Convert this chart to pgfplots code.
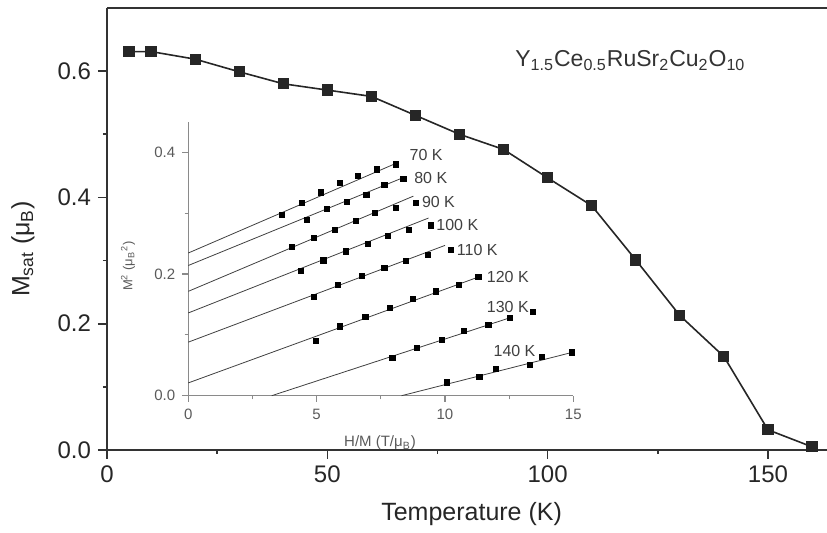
\documentclass[border=0pt]{standalone}
\usepackage{pgfplots}
\pgfplotsset{compat=1.18}
\usepackage{fontspec}
\setmainfont{Liberation Sans}
\definecolor{insetgray}{HTML}{8A8A8A}
\definecolor{insettext}{HTML}{5A5A5A}
\begin{document}
\begin{tikzpicture}
\begin{axis}[
  name=main, at={(0pt,0pt)}, anchor=south west,
  scale only axis, width=360pt, height=221pt,
  xmin=0, xmax=163.4, ymin=0, ymax=0.7,
  axis x line*=box, axis y line*=left,
  axis line style={black!80, line width=1pt},
  xtick={0,50,100,150}, minor xtick={25,75,125},
  ytick={0,0.2,0.4,0.6}, minor ytick={0.1,0.3,0.5},
  xtick pos=left, ytick pos=left,
  tick align=outside,
  major tick length=4.5pt, minor tick length=2pt,
  tick style={black!80, line width=0.8pt},
  y tick label style={/pgf/number format/fixed, /pgf/number format/fixed zerofill, /pgf/number format/precision=1},
  ticklabel style={font=\fontsize{12}{14}\selectfont, text=black!85},
  /pgf/number format/assume math mode=true,
  clip=false,
]
\addplot[black!85, line width=0.8pt, mark=square*, mark size=2.4pt, mark options={solid}] coordinates {
(5,0.631) (10,0.631) (20,0.619) (30,0.599) (40,0.580) (50,0.570) (60,0.560)
(70,0.530) (80,0.500) (90,0.476) (100,0.431) (110,0.387) (120,0.301)
(130,0.213) (140,0.148) (150,0.032) (160,0.005)
};
\end{axis}

\begin{axis}[
  name=inset, at={(40.65pt,27.15pt)}, anchor=south west,
  scale only axis, width=192.5pt, height=136.9pt,
  xmin=0, xmax=15, ymin=0, ymax=0.45,
  axis lines*=left,
  axis line style={insetgray, line width=0.6pt},
  xtick={0,5,10,15}, minor xtick={2.5,7.5,12.5},
  ytick={0,0.2,0.4}, minor ytick={0.1,0.3},
  tick align=outside,
  major tick length=3pt, minor tick length=1.8pt,
  tick style={insetgray, line width=0.6pt},
  y tick label style={/pgf/number format/fixed, /pgf/number format/fixed zerofill, /pgf/number format/precision=1},
  ticklabel style={font=\fontsize{7.5}{9}\selectfont, text=insettext},
  /pgf/number format/assume math mode=true,
  clip=false,
]
% fit lines
\addplot[black!75, line width=0.4pt] coordinates {(0,0.2345) (8.1,0.382)};
\addplot[black!75, line width=0.4pt] coordinates {(0,0.214) (8.35,0.358)};
\addplot[black!75, line width=0.4pt] coordinates {(0,0.1715) (8.77,0.328)};
\addplot[black!75, line width=0.4pt] coordinates {(0,0.136) (9.36,0.292)};
\addplot[black!75, line width=0.4pt] coordinates {(0,0.088) (10.0,0.247)};
\addplot[black!75, line width=0.4pt] coordinates {(0,0.021) (11.3,0.195)};
\addplot[black!75, line width=0.4pt] coordinates {(3.25,0) (12.6,0.129)};
\addplot[black!75, line width=0.4pt] coordinates {(8.31,0) (14.94,0.071)};
% data
\pgfplotsset{every axis plot/.append style={}}
\addplot[only marks, mark=square*, mark size=1.3pt, black] coordinates {
(3.64,0.2975) (4.44,0.317) (5.17,0.334) (5.91,0.350) (6.62,0.361) (7.36,0.372) (8.09,0.380)};
\addplot[only marks, mark=square*, mark size=1.3pt, black] coordinates {
(4.61,0.289) (5.39,0.307) (6.19,0.318) (6.94,0.330) (7.64,0.346) (8.38,0.356)};
\addplot[only marks, mark=square*, mark size=1.3pt, black] coordinates {
(4.03,0.244) (4.90,0.259) (5.71,0.272) (6.52,0.287) (7.27,0.301) (8.09,0.308) (8.87,0.317)};
\addplot[only marks, mark=square*, mark size=1.3pt, black] coordinates {
(4.40,0.2055) (5.26,0.2225) (6.14,0.237) (6.99,0.250) (7.77,0.262) (8.60,0.273) (9.44,0.280)};
\addplot[only marks, mark=square*, mark size=1.3pt, black] coordinates {
(4.90,0.163) (5.84,0.182) (6.75,0.197) (7.64,0.210) (8.48,0.222) (9.35,0.232) (10.22,0.239)};
\addplot[only marks, mark=square*, mark size=1.3pt, black] coordinates {
(4.97,0.090) (5.91,0.114) (6.90,0.130) (7.86,0.144) (8.74,0.159) (9.65,0.1715) (10.55,0.1825) (11.30,0.195)};
\addplot[only marks, mark=square*, mark size=1.3pt, black] coordinates {
(7.95,0.062) (8.90,0.078) (9.87,0.092) (10.74,0.106) (11.69,0.117) (12.53,0.128) (13.44,0.1375)};
\addplot[only marks, mark=square*, mark size=1.3pt, black] coordinates {
(10.06,0.022) (11.34,0.031) (11.97,0.044) (13.31,0.050) (13.77,0.064) (14.94,0.071)};
\begin{scope}[every node/.style={anchor=west, inner sep=0pt, font=\fontsize{8}{9.6}\selectfont, text=black!75}]
\node at (axis cs:8.61,0.395) {70 K};
\node at (axis cs:8.79,0.357) {80 K};
\node at (axis cs:9.09,0.318) {90 K};
\node at (axis cs:9.65,0.281) {100 K};
\node at (axis cs:10.45,0.240) {110 K};
\node at (axis cs:11.62,0.195) {120 K};
\node at (axis cs:11.62,0.145) {130 K};
\node at (axis cs:11.88,0.074) {140 K};
\end{scope}
\end{axis}

% labels
\node[anchor=base, inner sep=0pt, font=\fontsize{12.5}{15}\selectfont, text=black!85] at (182.3pt,-35.5pt) {Temperature (K)};
\node[rotate=90, inner sep=0pt, font=\fontsize{12.5}{15}\selectfont, text=black!85] at (-42pt,100.5pt) {M\textsubscript{sat} (μ\textsubscript{B})};
\node[anchor=base west, inner sep=0pt, font=\fontsize{11.5}{14}\selectfont, text=black!80] at (204pt,191.5pt) {Y\textsubscript{1.5}Ce\textsubscript{0.5}RuSr\textsubscript{2}Cu\textsubscript{2}O\textsubscript{10}};
\node[inner sep=0pt, font=\fontsize{7.5}{9}\selectfont, text=insettext] at (136.5pt,3.5pt) {H/M (T/μ\textsubscript{B})};
\node[rotate=90, inner sep=0pt, font=\fontsize{6.5}{8}\selectfont, text=insettext] at (10.5pt,92pt) {M\textsuperscript{2} (μ\textsubscript{B}\textsuperscript{2})};

\pgfresetboundingbox
\useasboundingbox (-53.5pt,-41.5pt) rectangle (360pt,225pt);
\end{tikzpicture}
\end{document}
